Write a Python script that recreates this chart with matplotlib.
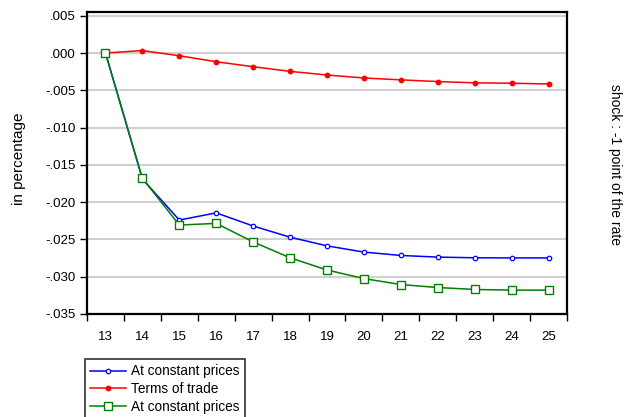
import matplotlib
matplotlib.use("Agg")
import matplotlib.pyplot as plt
from matplotlib.ticker import FuncFormatter, FixedLocator

plt.rcParams['font.family'] = ['Liberation Sans', 'DejaVu Sans']

periods = [13, 14, 15, 16, 17, 18, 19, 20, 21, 22, 23, 24, 25]
constant_prices = [0.0, -0.0169, -0.0224, -0.02144, -0.0232, -0.0247, -0.02586,
                   -0.0267, -0.02715, -0.02737, -0.02746, -0.02748, -0.02748]
terms_of_trade = [0.0, 0.00033, -0.00037, -0.00117, -0.00184, -0.00246, -0.00295,
                  -0.00335, -0.0036, -0.00383, -0.0040, -0.00405, -0.00415]
constant_prices2 = [0.0, -0.0168, -0.02307, -0.02285, -0.02533, -0.02746, -0.0291,
                    -0.03025, -0.03105, -0.03145, -0.03171, -0.0318, -0.0318]
yticks = [0.005, 0.0, -0.005, -0.010, -0.015, -0.020, -0.025, -0.030, -0.035]

fig = plt.figure(figsize=(6.28, 4.17), dpi=100)
ax = fig.add_axes([87/628, 1 - 314/417, 480/628, 302/417])

ax.plot(periods, constant_prices, color="blue", lw=1.1, marker="o", ms=3.2,
        mfc="white", mec="blue", mew=0.9, label="At constant prices", zorder=3)
ax.plot(periods, terms_of_trade, color="red", lw=1.1, marker="o", ms=3.2,
        mfc="red", mec="red", label="Terms of trade", zorder=3)
ax.plot(periods, constant_prices2, color="green", lw=1.1, marker="s", ms=5.5,
        mfc="white", mec="green", mew=1.0, label="At constant prices", zorder=4)

ax.set_xlim(12.5, 25.5)
ax.set_ylim(-0.035, 0.0055)
ax.set_yticks(yticks)
ax.yaxis.set_major_formatter(FuncFormatter(
    lambda v, p: ("-" if v < -1e-9 else "") + ("%.3f" % abs(v)).lstrip("0")))
ax.grid(axis="y", color="#d0d0d0", lw=1.5)
ax.set_axisbelow(True)

ax.set_xticks(periods)
ax.tick_params(axis="x", which="major", length=0, pad=12, labelsize=9.5)
ax.xaxis.set_minor_locator(FixedLocator([p - 0.5 for p in periods] + [periods[-1] + 0.5]))
ax.tick_params(axis="x", which="minor", length=5, width=1)
ax.tick_params(axis="y", length=5, width=1, labelsize=9.5, pad=3)

for s in ax.spines.values():
    s.set_linewidth(1.6)

fig.text(19/628, 1 - 159/417, "in percentage", rotation=90,
         ha="center", va="center", fontsize=11)
fig.text(615/628, 1 - 164/417, "shock : -1 point of the rate", rotation=-90,
         ha="center", va="center", fontsize=10)

leg = fig.legend(loc="upper left", bbox_to_anchor=(85/628, 1 - 359/417),
                 fontsize=9.8, frameon=True, fancybox=False, handlelength=2.6,
                 handletextpad=0.4, labelspacing=0.28, borderpad=0.4, borderaxespad=0)
leg.get_frame().set_edgecolor("black")
leg.get_frame().set_linewidth(1.2)

fig.savefig("out.png", dpi=100)
